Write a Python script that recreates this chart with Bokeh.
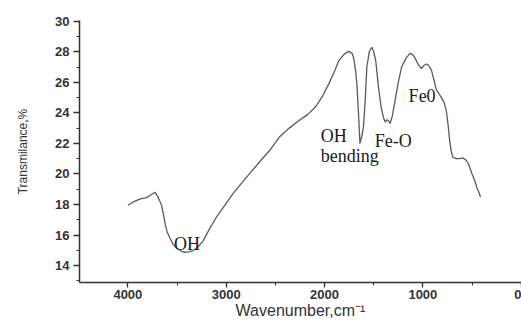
from bokeh.plotting import figure
from bokeh.models import Range1d, SingleIntervalTicker, ColumnDataSource
from bokeh.core.properties import value
from bokeh.embed import file_html
from bokeh.resources import INLINE

wavenumber = [4000, 3950, 3880, 3810, 3760, 3724, 3695, 3660, 3640, 3620, 3600, 3573,
              3540, 3506, 3460, 3421, 3380, 3337, 3290, 3236, 3170, 3101, 3020, 2933,
              2850, 2765, 2660, 2563, 2461, 2360, 2259, 2170, 2091, 2020, 1957, 1900,
              1856, 1800, 1755, 1720, 1704, 1685, 1671, 1655, 1640, 1620, 1604, 1585,
              1570, 1545, 1520, 1500, 1479, 1452, 1425, 1401, 1384, 1365, 1351, 1334,
              1310, 1283, 1250, 1216, 1170, 1131, 1100, 1081, 1050, 1014, 990, 964,
              940, 913, 885, 863, 840, 812, 785, 762, 745, 728, 712, 695, 660, 627,
              595, 560, 540, 525, 500, 475, 450, 424, 415]
transmittance = [17.95, 18.15, 18.35, 18.45, 18.65, 18.8, 18.5, 18.0, 17.4, 16.7, 16.2, 15.8,
                 15.4, 15.15, 14.95, 14.87, 14.9, 14.98, 15.2, 15.6, 16.4, 17.15, 17.9, 18.7,
                 19.35, 20.0, 20.8, 21.5, 22.4, 23.0, 23.5, 23.9, 24.4, 25.1, 25.9, 26.7,
                 27.4, 27.85, 28.03, 27.9, 27.6, 26.8, 25.9, 24.0, 22.0, 22.5, 23.1, 25.0,
                 27.0, 28.0, 28.3, 28.0, 27.4, 25.7, 24.4, 23.7, 23.4, 23.55, 23.5, 23.3,
                 23.8, 24.8, 26.0, 27.0, 27.6, 27.9, 27.8, 27.6, 27.2, 26.9, 27.1, 27.2,
                 27.1, 26.8, 26.1, 25.5, 25.3, 25.0, 24.7, 24.15, 23.3, 22.2, 21.5, 21.1, 21.0, 21.0,
                 21.05, 20.9, 20.7, 20.45, 20.0, 19.6, 19.1, 18.7, 18.5]

label_texts = ["OH", "OH", "bending", "Fe-O", "Fe0"]
label_x = [3532, 2038, 2038, 1489, 1145]
label_y = [15.42, 22.51, 21.17, 22.19, 25.13]

x_title = "Wavenumber,cm\u207b\u00b9"
y_title = "Transmilance,%"

p = figure(width=521, height=322, output_backend="svg", toolbar_location=None,
           x_range=Range1d(4492, -3), y_range=Range1d(12.89, 30.05),
           min_border_left=79, min_border_right=0, min_border_top=20, min_border_bottom=40)
p.outline_line_color = None
p.grid.visible = False
p.background_fill_color = "white"
p.border_fill_color = "white"

p.line(wavenumber, transmittance, line_color="#5a5a5a", line_width=1.3)

src = ColumnDataSource(dict(x=label_x, y=label_y, t=label_texts))
p.text(x="x", y="y", text="t", source=src, text_font=value("Liberation Serif"),
       text_font_size="18px", text_color="#1a1a1a", text_align="left",
       text_baseline="alphabetic")

p.xaxis.ticker = SingleIntervalTicker(interval=1000, num_minor_ticks=2)
p.yaxis.ticker = SingleIntervalTicker(interval=2, num_minor_ticks=2)
p.xaxis.axis_label = x_title
p.yaxis.axis_label = y_title
for ax in (p.xaxis[0], p.yaxis[0]):
    ax.axis_line_color = "#333333"
    ax.axis_line_width = 1.5
    ax.major_tick_line_color = "#333333"
    ax.minor_tick_line_color = "#333333"
    ax.major_tick_line_width = 1.3
    ax.minor_tick_line_width = 1.1
    ax.major_tick_in = 0
    ax.minor_tick_in = 0
    ax.major_label_text_font = "Liberation Sans"
    ax.major_label_text_font_style = "bold"
    ax.major_label_text_color = "#333333"
    ax.axis_label_text_font = "Liberation Sans"
    ax.axis_label_text_font_style = "normal"
    ax.axis_label_text_color = "#333333"
p.xaxis.major_tick_out = 5
p.xaxis.minor_tick_out = 3
p.yaxis.major_tick_out = 6
p.yaxis.minor_tick_out = 3
p.xaxis.major_label_text_font_size = "13px"
p.yaxis.major_label_text_font_size = "13px"
p.xaxis.axis_label_text_font_size = "16px"
p.yaxis.axis_label_text_font_size = "12px"
p.xaxis.major_label_standoff = 2
p.yaxis.major_label_standoff = 4
p.xaxis.axis_label_standoff = 0
p.yaxis.axis_label_standoff = 22

open("out.html", "w").write(file_html(p, INLINE))
